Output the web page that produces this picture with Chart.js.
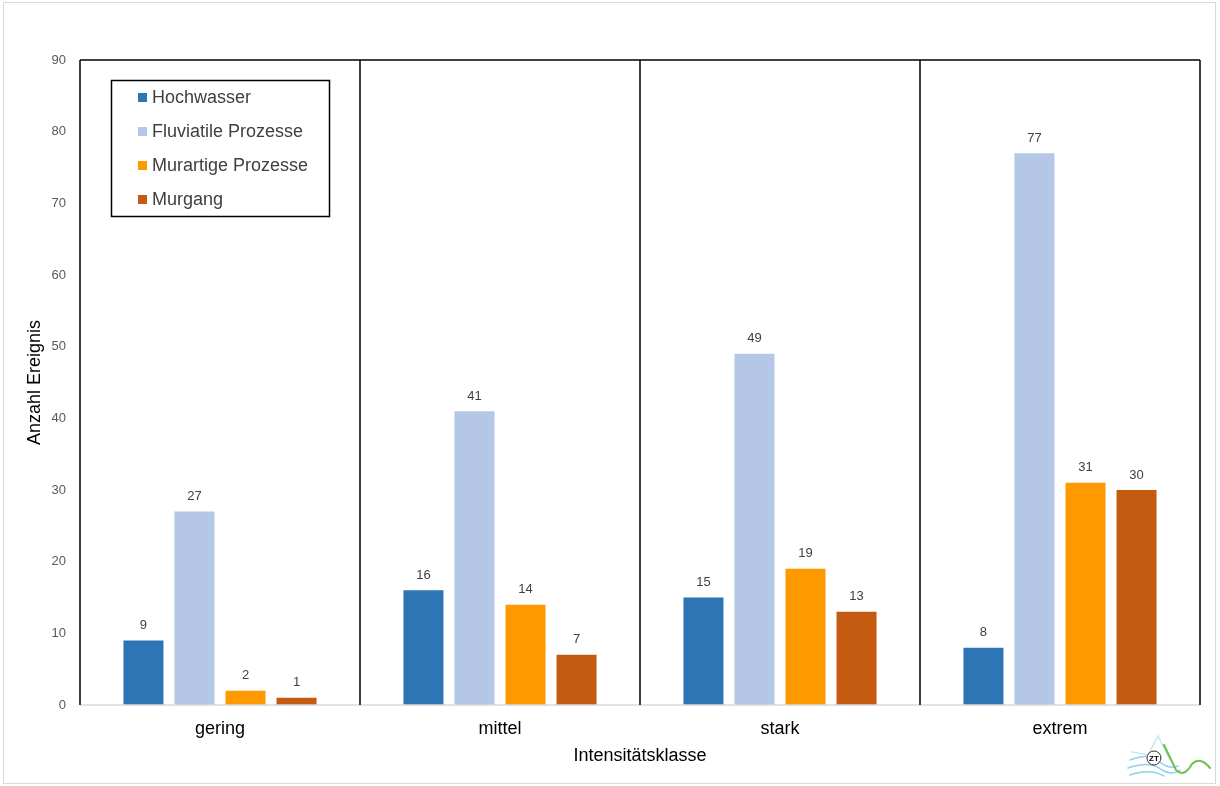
<!DOCTYPE html>
<html><head><meta charset="utf-8">
<script src="https://cdn.jsdelivr.net/npm/chart.js@4/dist/chart.umd.min.js"></script>
<style>html,body{margin:0;padding:0;background:#fff}#wrap{width:1220px;height:786px;position:relative}</style>
</head><body><div id="wrap"><canvas id="c" width="1220" height="786"></canvas></div>
<script>
const categories = ["gering", "mittel", "stark", "extrem"];
const seriesNames = ["Hochwasser", "Fluviatile Prozesse", "Murartige Prozesse", "Murgang"];
const hochwasser = [9, 16, 15, 8];
const fluviatile = [27, 41, 49, 77];
const murartige = [2, 14, 19, 31];
const murgang = [1, 7, 13, 30];
const yTicks = [0, 10, 20, 30, 40, 50, 60, 70, 80, 90];
const colors = ["#2E75B6", "#B4C7E7", "#FF9900", "#C55A11"];
const FONT = "'Liberation Sans', Arial, sans-serif";

const values = [hochwasser, fluviatile, murartige, murgang];

const framePlugin = {
  id: 'frame',
  beforeDraw(chart) {
    const ctx = chart.ctx;
    ctx.save();
    ctx.fillStyle = '#fff';
    ctx.fillRect(0, 0, chart.width, chart.height);
    ctx.strokeStyle = '#d9d9d9';
    ctx.lineWidth = 1;
    ctx.strokeRect(3.5, 2.5, 1212, 781);
    ctx.restore();
  },
  afterDatasetsDraw(chart) {
    const ctx = chart.ctx;
    const a = chart.chartArea;
    const x = chart.scales.x;
    ctx.save();
    ctx.strokeStyle = '#d9d9d9';
    ctx.lineWidth = 1.5;
    ctx.beginPath(); ctx.moveTo(a.left, a.bottom); ctx.lineTo(a.right, a.bottom); ctx.stroke();
    ctx.strokeStyle = '#000';
    ctx.lineWidth = 1.5;
    ctx.beginPath(); ctx.moveTo(a.left, a.top); ctx.lineTo(a.right, a.top); ctx.stroke();
    const n = categories.length;
    const step = (a.right - a.left) / n;
    for (let i = 0; i <= n; i++) {
      const px = i < n ? x.getPixelForValue(i) - step / 2 : x.getPixelForValue(n - 1) + step / 2;
      ctx.beginPath(); ctx.moveTo(px, a.top); ctx.lineTo(px, a.bottom); ctx.stroke();
    }
    ctx.fillStyle = '#404040';
    ctx.font = "13px " + FONT;
    ctx.textAlign = 'center';
    ctx.textBaseline = 'middle';
    chart.data.datasets.forEach((ds, di) => {
      const meta = chart.getDatasetMeta(di);
      meta.data.forEach((el, i) => {
        ctx.fillText(String(ds.data[i]), el.x, el.y - 15);
      });
    });
    ctx.strokeStyle = '#000';
    ctx.lineWidth = 1.5;
    ctx.strokeRect(111.5, 80.5, 218, 136);
    ctx.font = "18px " + FONT;
    ctx.textAlign = 'left';
    chart.data.datasets.forEach((ds, di) => {
      const cy = 97 + di * 34;
      ctx.fillStyle = ds.backgroundColor;
      ctx.fillRect(138, cy - 4, 9, 9);
      ctx.fillStyle = '#404040';
      ctx.fillText(ds.label, 152, cy + 1);
    });
    ctx.restore();
  },
  afterDraw(chart) {
    const ctx = chart.ctx;
    ctx.save();
    ctx.lineCap = 'round';
    ctx.strokeStyle = '#8fd0ef';
    ctx.lineWidth = 1.5;
    ctx.beginPath();
    ctx.moveTo(1130, 760); ctx.quadraticCurveTo(1150, 752, 1160, 762); ctx.quadraticCurveTo(1170, 770, 1178, 766);
    ctx.moveTo(1128, 768); ctx.quadraticCurveTo(1150, 760, 1162, 770); ctx.quadraticCurveTo(1172, 776, 1180, 770);
    ctx.moveTo(1130, 775); ctx.quadraticCurveTo(1150, 768, 1164, 776);
    ctx.stroke();
    ctx.strokeStyle = '#c8e6f5';
    ctx.beginPath();
    ctx.moveTo(1132, 752); ctx.lineTo(1148, 755); ctx.lineTo(1158, 736); ctx.lineTo(1170, 760);
    ctx.stroke();
    ctx.strokeStyle = '#6cc24a';
    ctx.lineWidth = 2;
    ctx.beginPath();
    ctx.moveTo(1164, 745); ctx.lineTo(1176, 770); ctx.quadraticCurveTo(1184, 778, 1192, 764); ctx.quadraticCurveTo(1200, 756, 1210, 768);
    ctx.stroke();
    ctx.fillStyle = '#fff';
    ctx.strokeStyle = '#333';
    ctx.lineWidth = 1;
    ctx.beginPath(); ctx.arc(1154, 758, 7, 0, Math.PI * 2); ctx.fill(); ctx.stroke();
    ctx.fillStyle = '#000';
    ctx.font = "bold 8px " + FONT;
    ctx.textAlign = 'center'; ctx.textBaseline = 'middle';
    ctx.fillText('ZT', 1154, 758.5);
    ctx.restore();
  }
};

new Chart(document.getElementById('c'), {
  type: 'bar',
  data: {
    labels: categories,
    datasets: seriesNames.map((name, i) => ({
      label: name,
      data: values[i],
      backgroundColor: colors[i],
      borderWidth: 0,
      categoryPercentage: 0.729,
      barPercentage: 0.784
    }))
  },
  options: {
    responsive: false,
    animation: false,
    devicePixelRatio: 1,
    layout: { padding: { left: 24, right: 20, top: 60, bottom: 19 } },
    plugins: { legend: { display: false }, tooltip: { enabled: false } },
    scales: {
      x: {
        grid: { display: false, drawTicks: false },
        border: { display: false },
        ticks: { color: '#000', font: { family: FONT, size: 18 }, padding: 13, maxRotation: 0 },
        title: { display: true, text: 'Intensitätsklasse', color: '#000', font: { family: FONT, size: 18 }, padding: 0 },
        afterFit(s) { s.height = 62; }
      },
      y: {
        min: 0, max: 90,
        afterBuildTicks(s) { s.ticks = yTicks.map(v => ({ value: v })); },
        grid: { display: false, drawTicks: false },
        border: { display: false },
        ticks: { color: '#595959', font: { family: FONT, size: 13 }, padding: 14 },
        title: { display: true, text: 'Anzahl Ereignis', color: '#000', font: { family: FONT, size: 18 }, padding: 0 },
        afterFit(s) { s.width = 56; }
      }
    }
  },
  plugins: [framePlugin]
});
</script></body></html>
